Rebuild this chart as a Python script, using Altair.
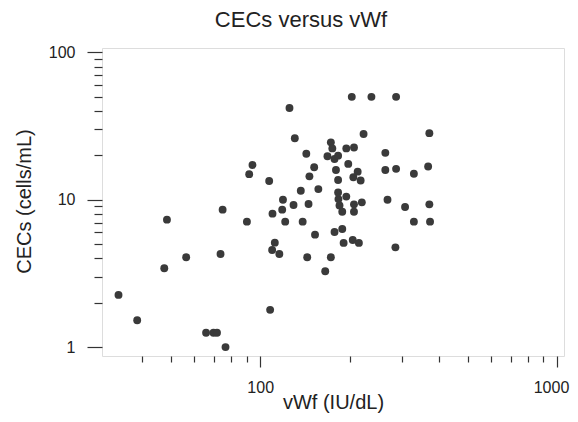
import altair as alt
import pandas as pd

vwf = [33.3, 38.5, 47.5, 48.5, 56.3, 65.7, 69.6, 71.5, 76.4, 73.5,
       74.7, 90.2, 108, 110, 118.6, 119.3, 129.5, 145.5, 121.4, 139,
       153, 112, 109.7, 116, 144, 165.6, 173, 185, 183.5, 189,
       207, 220, 207, 268.5, 307.7, 371.5, 178, 189, 191, 205,
       215, 285.5, 329.5, 373.5, 203.5, 237, 287, 223, 371.5, 173,
       175, 195, 207, 143, 168.5, 178, 183, 264, 198, 152,
       180, 213, 206, 218, 264, 287, 329.5, 368, 146.5, 183,
       157, 183, 195, 137, 125.5, 130.8, 94.2, 91.8, 107.2]
cecs = [2.26, 1.52, 3.43, 7.32, 4.07, 1.25, 1.25, 1.25, 1.0, 4.28,
        8.56, 7.1, 1.79, 8.04, 8.56, 10.0, 9.2, 9.35, 7.1, 7.1,
        5.79, 5.11, 4.56, 4.28, 4.07, 3.27, 4.07, 9.13, 10.1, 8.29,
        9.3, 9.6, 8.29, 10.0, 8.93, 9.3, 6.04, 6.33, 5.09, 5.33,
        5.09, 4.75, 7.1, 7.1, 49.9, 49.9, 49.9, 27.9, 28.3, 24.5,
        22.3, 22.3, 22.6, 20.5, 19.7, 18.9, 19.9, 20.8, 17.5, 16.6,
        15.9, 15.5, 14.2, 13.5, 15.9, 16.2, 15.0, 16.8, 14.4, 13.6,
        11.8, 11.2, 10.5, 11.5, 41.9, 26.1, 17.2, 14.9, 13.4]

x_ticks = [40, 50, 60, 70, 80, 90, 100, 200, 300, 400, 500, 600, 700, 800, 900, 1000]
y_ticks = [1, 2, 3, 4, 5, 6, 7, 8, 9, 10, 20, 30, 40, 50, 60, 70, 80, 90, 100]

df = pd.DataFrame({"vwf": vwf, "cecs": cecs})

FONT = "Liberation Sans"
W, H = 462, 308

x_axis = alt.Axis(
    values=x_ticks,
    labelExpr="(datum.value == 100 || datum.value == 1000) ? format(datum.value, 'd') : ''",
    tickSize={"condition": {"test": "datum.value == 100 || datum.value == 1000", "value": 11}, "value": 6},
    labelOffset={"condition": {"test": "datum.value == 1000", "value": -6}, "value": 0},
    labelPadding=12,
    labelOverlap=False,
    labelFlush=False,
    labelFont=FONT,
    labelFontSize=16,
    labelColor="#222",
    tickColor="#333",
    tickWidth=1.2,
    domain=False,
    grid=False,
    title="vWf (IU/dL)",
    titleFont=FONT,
    titleFontSize=20,
    titleFontWeight="normal",
    titleColor="#222",
    titleBaseline="alphabetic",
    titleX=W / 2,
    titleY=52,
)

y_axis = alt.Axis(
    values=y_ticks,
    labelExpr="(datum.value == 1 || datum.value == 10 || datum.value == 100) ? format(datum.value, 'd') : ''",
    tickSize={"condition": {"test": "datum.value == 1 || datum.value == 10 || datum.value == 100", "value": 15}, "value": 8},
    labelPadding=12,
    labelOverlap=False,
    labelFlush=False,
    labelFont=FONT,
    labelFontSize=16,
    labelColor="#222",
    tickColor="#333",
    tickWidth=1.2,
    domain=False,
    grid=False,
    title="CECs (cells/mL)",
    titleFont=FONT,
    titleFontSize=20,
    titleFontWeight="normal",
    titleColor="#222",
    titleBaseline="alphabetic",
    titleAngle=270,
    titleX=-72,
    titleY=153,
)

chart = (
    alt.Chart(df)
    .mark_circle(size=62, opacity=1, color="#3a3a3a")
    .encode(
        x=alt.X("vwf:Q", scale=alt.Scale(type="log", domain=[29.3, 1056], nice=False, zero=False), axis=x_axis),
        y=alt.Y("cecs:Q", scale=alt.Scale(type="log", domain=[0.87, 107], nice=False, zero=False), axis=y_axis),
    )
    .properties(
        width=W,
        height=H,
        title=alt.TitleParams(
            "CECs versus vWf",
            font=FONT,
            fontSize=22,
            fontWeight="normal",
            color="#222",
            anchor="middle",
            frame="group",
            dx=-32,
            offset=12,
        ),
        autosize=alt.AutoSizeParams(type="none"),
        padding={"left": 94, "top": 40, "right": 6, "bottom": 58},
    )
    .configure_view(stroke="#4a4a4a", strokeWidth=1.4)
    .configure(background="white")
)

chart.save("out.html", embed_options={"renderer": "svg", "actions": False})
